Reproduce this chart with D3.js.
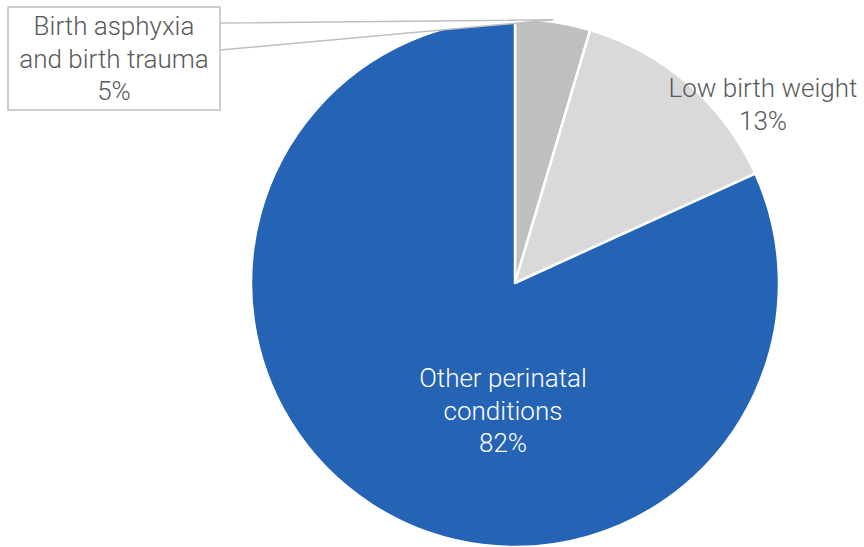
<!DOCTYPE html>
<html><head><meta charset="utf-8">
<script src="https://cdn.jsdelivr.net/npm/d3@7"></script>
<style>body{margin:0;background:#fff}</style>
</head><body>
<svg id="c" width="864" height="547"></svg>
<script>
const categories = ["Birth asphyxia and birth trauma", "Low birth weight", "Other perinatal conditions"];
const values = [4.6, 13.6, 81.8];
const pctLabels = ["5%", "13%", "82%"];
const colors = ["#bfbfbf", "#d9d9d9", "#2563b4"];

const svg = d3.select("#c");
const cx = 515, cy = 283, r = 264;
const pie = d3.pie().sort(null).value(d => d)(values);
const arc = d3.arc().innerRadius(0).outerRadius(r);
const g = svg.append("g").attr("transform", `translate(${cx},${cy})`);
g.selectAll("path").data(pie).join("path")
  .attr("d", arc).attr("fill", (d,i) => colors[i])
  .attr("stroke", "#fff").attr("stroke-width", 2.5).attr("stroke-linejoin","round");

// callout for first slice
const tipAngle = (pie[0].startAngle + pie[0].endAngle) / 2;
const tip = [cx + Math.sin(tipAngle) * (r + 2) , cy - Math.cos(tipAngle) * (r + 2)];
svg.append("path")
  .attr("d", d3.line()([[220, 23], tip, [220, 50]]))
  .attr("fill", "#fff").attr("stroke", "#bfbfbf").attr("stroke-width", 1.5);
svg.append("rect").attr("x", 8).attr("y", 7).attr("width", 212).attr("height", 103)
  .attr("fill", "#fff").attr("stroke", "#bfbfbf").attr("stroke-width", 1.5);

const font = "Roboto, 'Noto Sans', sans-serif";
function label(x, lines, y0, color) {
  const t = svg.append("text").attr("text-anchor", "middle")
    .attr("font-family", font).attr("font-weight", 300).attr("font-size", 26)
    .attr("fill", color);
  lines.forEach((s, i) => t.append("tspan").attr("x", x).attr("y", y0 + i * 32.5).text(s));
}
label(114, ["Birth asphyxia", "and birth trauma", pctLabels[0]], 35, "#595959");
label(763, ["Low birth weight", pctLabels[1]], 97, "#595959");
label(503, ["Other perinatal", "conditions", pctLabels[2]], 387, "#ffffff");
</script>
</body></html>
